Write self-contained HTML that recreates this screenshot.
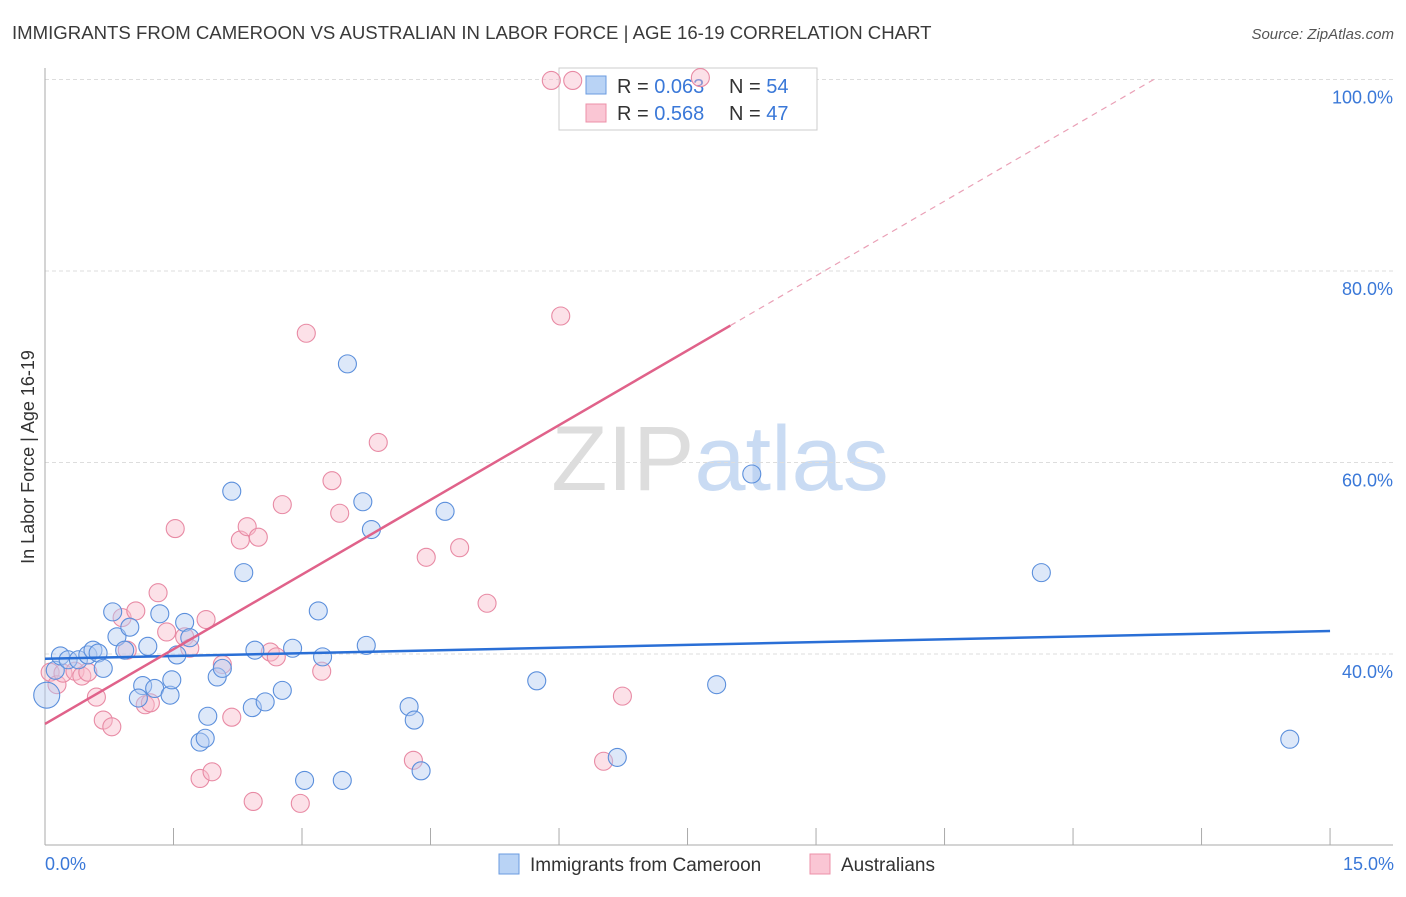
<!DOCTYPE html>
<html><head><meta charset="utf-8"><style>
body{margin:0;background:#fff;font-family:"Liberation Sans",sans-serif}
svg text{font-family:"Liberation Sans",sans-serif}
</style></head><body>
<svg id="chart" width="1406" height="892" xmlns="http://www.w3.org/2000/svg">
<text x="12" y="39" font-size="18.6" fill="#3a3a3a">IMMIGRANTS FROM CAMEROON VS AUSTRALIAN IN LABOR FORCE | AGE 16-19 CORRELATION CHART</text>
<text x="1394" y="39" font-size="15" fill="#555" text-anchor="end" font-style="italic">Source: ZipAtlas.com</text>
<text x="720" y="490" font-size="92" text-anchor="middle" fill="#ddd" font-family="Liberation Serif">ZIP<tspan fill="#c9dbf3" font-family="Liberation Sans">atlas</tspan></text>
<text transform="translate(34,457) rotate(-90)" font-size="18" fill="#333" text-anchor="middle">In Labor Force | Age 16-19</text>
<g id="grid"></g><g id="axes"></g>
<g>
<rect x="559" y="68" width="258" height="62" fill="#fff" stroke="#ccc"/>
<rect x="586" y="76" width="20" height="18" fill="#b9d3f5" stroke="#6a9be0"/>
<rect x="586" y="104" width="20" height="18" fill="#fac6d4" stroke="#ec90a8"/>
<text x="617" y="93" font-size="20" fill="#333">R = <tspan fill="#3a78d8">0.063</tspan></text>
<text x="729" y="93" font-size="20" fill="#333">N = <tspan fill="#3a78d8">54</tspan></text>
<text x="617" y="120" font-size="20" fill="#333">R = <tspan fill="#3a78d8">0.568</tspan></text>
<text x="729" y="120" font-size="20" fill="#333">N = <tspan fill="#3a78d8">47</tspan></text>
</g>
<g id="pts"></g><g id="lines"></g>
<g>
<rect x="499" y="854" width="20" height="20" fill="#b9d3f5" stroke="#6a9be0"/>
<text x="530" y="871" font-size="19" fill="#333">Immigrants from Cameroon</text>
<rect x="810" y="854" width="20" height="20" fill="#fac6d4" stroke="#ec90a8"/>
<text x="841" y="871" font-size="19" fill="#333">Australians</text>
</g>
</svg>
<script>
const yTicks=[40,60,80,100];
const xTickLabels=["0.0%","15.0%"];
const blueX=[0.02,0.12,0.18,0.27,0.39,0.50,0.56,0.62,0.68,0.79,0.84,0.93,0.99,1.14,1.09,1.20,1.28,1.34,1.46,1.48,1.54,1.63,1.69,1.81,1.87,1.90,2.01,2.07,2.18,2.32,2.42,2.45,2.57,2.77,2.89,3.03,3.19,3.24,3.47,3.53,3.71,3.75,3.81,4.25,4.31,4.39,4.67,5.74,6.68,7.84,8.25,11.63,14.53];
const blueY=[35.7,38.3,39.8,39.4,39.4,39.9,40.4,40.1,38.5,44.4,41.8,40.4,42.8,36.7,35.4,40.8,36.4,44.2,35.7,37.3,39.9,43.3,41.7,30.8,31.2,33.5,37.6,38.5,57.0,48.5,34.4,40.4,35.0,36.2,40.6,26.8,44.5,39.7,26.8,70.3,55.9,40.9,53.0,34.5,33.1,27.8,54.9,37.2,29.2,36.8,58.8,48.5,31.1];
const pinkX=[0.06,0.14,0.21,0.35,0.43,0.50,0.60,0.68,0.78,0.90,0.96,1.06,1.17,1.23,1.32,1.42,1.52,1.63,1.69,1.81,1.88,1.95,2.07,2.18,2.28,2.36,2.43,2.49,2.63,2.70,2.77,2.98,3.05,3.23,3.35,3.44,3.89,4.30,4.45,4.84,5.16,5.91,6.02,6.16,6.52,6.74,7.65];
const pinkY=[38.1,36.8,38.0,38.2,37.7,38.1,35.5,33.1,32.4,43.8,40.4,44.5,34.7,34.9,46.4,42.3,53.1,41.8,40.6,27.0,43.6,27.7,38.9,33.4,51.9,53.3,24.6,52.2,40.2,39.7,55.6,24.4,73.5,38.2,58.1,54.7,62.1,28.9,50.1,51.1,45.3,99.9,75.3,99.9,28.8,35.6,100.2];
const blueTrend=[39.5,42.4];
const pinkTrend=[32.7,5.2];
const NS="http://www.w3.org/2000/svg";
const X=v=>45+v*85.67, Y=v=>1037-v*9.575;
function mk(tag,attrs,parent){const e=document.createElementNS(NS,tag);for(const k in attrs)e.setAttribute(k,attrs[k]);document.getElementById(parent).appendChild(e);return e;}
yTicks.forEach(t=>{
 const l=mk('line',{x1:45,x2:1393,y1:Y(t),y2:Y(t),stroke:'#ddd','stroke-dasharray':'4,3'},'grid');
 
 
 const tx=mk('text',{x:1393,y:Y(t)+24,'font-size':18,fill:'#3a78d8','text-anchor':'end'},'grid');
 tx.textContent=t.toFixed(1)+'%';
 
 
});
const ax=mk('line',{x1:45,x2:1393,y1:845,y2:845,stroke:'#aaa'},'axes');


const ay=mk('line',{x1:45,x2:45,y1:68,y2:845,stroke:'#aaa'},'axes');


for(let i=0;i<=10;i++){const tk=mk('line',{x1:X(i*1.5),x2:X(i*1.5),y1:828,y2:845,stroke:'#aaa'},'axes');
 
 }
[[0,'start',45],[15,'end',1394]].forEach((d,i)=>{const t=mk('text',{x:d[2],y:870,'font-size':18,fill:'#3a78d8','text-anchor':d[1]},'axes');t.textContent=xTickLabels[i];
 
 });
function pts(xs,ys,fill,stroke,name){xs.forEach((x,i)=>{const c=mk('circle',{cx:X(x),cy:Y(ys[i]),r:(i==0&&name=='blue')?13:9,fill:fill,'fill-opacity':0.45,stroke:stroke,'stroke-width':1.1},'pts');
 
 });}
pts(pinkX,pinkY,'#f8bccb','#e88aa4','pink');
pts(blueX,blueY,'#b3cdf2','#5b8fdc','blue');
const bl=mk('line',{x1:X(0),y1:Y(blueTrend[0]),x2:X(15),y2:Y(blueTrend[1]),stroke:'#2a6fd6','stroke-width':2.5},'lines');


const xe=8.0, xd=(100-pinkTrend[0])/pinkTrend[1];
const pl=mk('line',{x1:X(0),y1:Y(pinkTrend[0]),x2:X(xe),y2:Y(pinkTrend[0]+pinkTrend[1]*xe),stroke:'#e0628a','stroke-width':2.5},'lines');


const pd=mk('line',{x1:X(xe),y1:Y(pinkTrend[0]+pinkTrend[1]*xe),x2:X(xd),y2:Y(100),stroke:'#eaa0b6','stroke-width':1.2,'stroke-dasharray':'6,5'},'lines');


</script>
</body></html>
